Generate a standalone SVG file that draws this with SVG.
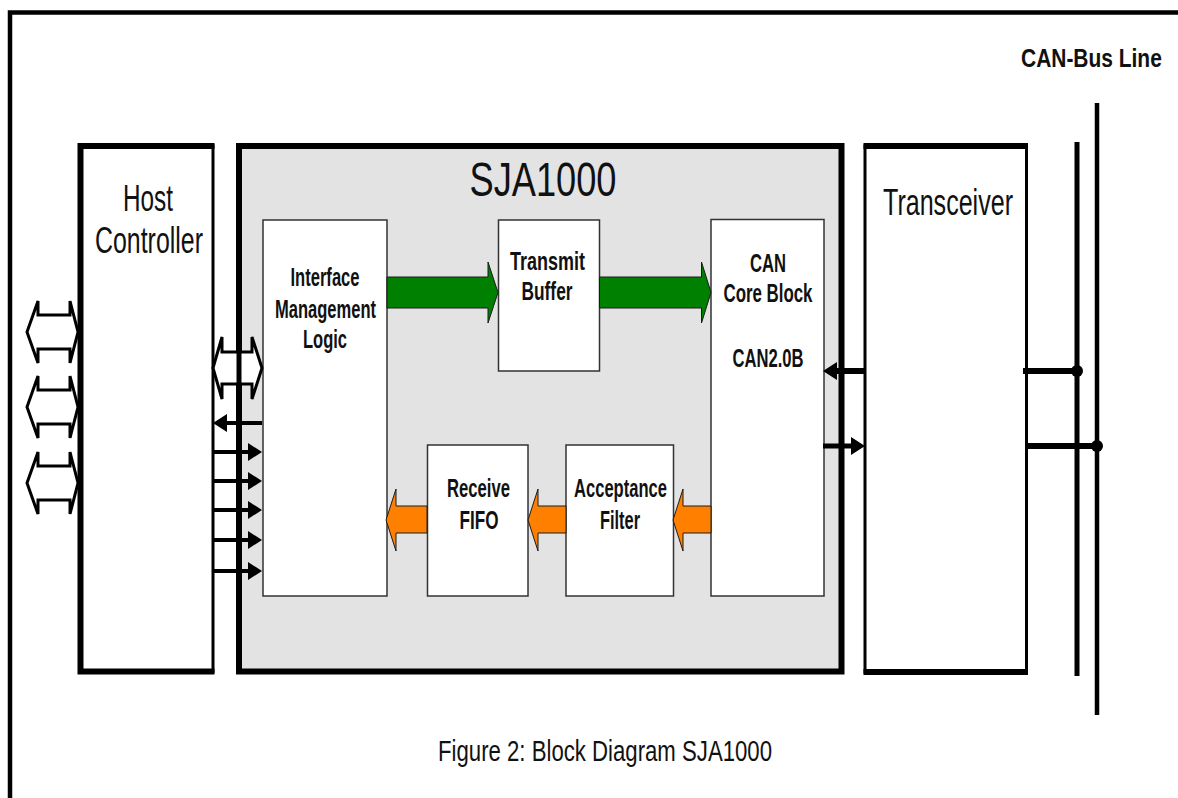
<svg xmlns="http://www.w3.org/2000/svg" width="1178" height="798" viewBox="0 0 1178 798">
<style>
.t{font-family:"Liberation Sans",Arial,sans-serif;fill:#111}
.big{font-size:37px}
.lab{font-size:25px;font-weight:bold}
.inner{fill:#fff;stroke:#333;stroke-width:1.5}
.thick{fill:none;stroke:#000;stroke-width:6}
.thin{fill:none;stroke:#000;stroke-width:3}
.grn{fill:#008000;stroke:#1a1a1a;stroke-width:1}
.org{fill:#ff8000;stroke:#1a1a1a;stroke-width:1}
.hollow{fill:#fff;stroke:#000;stroke-width:3;stroke-linejoin:miter}
.wire{stroke:#000;fill:none}
</style>
<defs>
<marker id="ah" markerUnits="userSpaceOnUse" markerWidth="14" markerHeight="18" refX="4" refY="9" orient="auto">
<path d="M0,0 L14,9 L0,18 Z" fill="#000"/>
</marker>
<path id="dbl" d="M27,0 L38,-31 L38,-17 L70,-17 L70,-31 L78,0 L70,31 L70,17 L38,17 L38,31 Z"/>
</defs>
<rect width="1178" height="798" fill="#fff"/>
<path d="M10,798 V12.5 H1178" fill="none" stroke="#000" stroke-width="4.5"/>
<text class="t" transform="translate(1021,67) scale(0.8,1)" x="0" y="0" font-size="25" font-weight="bold" textLength="176" lengthAdjust="spacingAndGlyphs">CAN-Bus Line</text>

<g id="host">
<rect x="80.5" y="146" width="132.5" height="525.5" class="thin" style="fill:#fff"/>
<path class="thick" d="M214.5,146 H80.5 V671.5 H214.5"/>
<text class="t big" x="148" y="211" text-anchor="middle" textLength="50" lengthAdjust="spacingAndGlyphs">Host</text>
<text class="t big" x="149" y="253" text-anchor="middle" textLength="108" lengthAdjust="spacingAndGlyphs">Controller</text>
</g>

<g id="sja1000">
<rect x="239" y="146" width="602.5" height="525.5" fill="#e3e3e3" stroke="#000" stroke-width="6"/>
<text class="t" x="543" y="196" font-size="49" text-anchor="middle" textLength="147" lengthAdjust="spacingAndGlyphs">SJA1000</text>
</g>

<g id="transceiver">
<rect x="865" y="146" width="161.5" height="526" class="thin" style="fill:#fff"/>
<path class="thick" d="M863.5,146 H1028 M863.5,672 H1028"/>
<text class="t big" x="948" y="215" text-anchor="middle" textLength="130" lengthAdjust="spacingAndGlyphs">Transceiver</text>
</g>

<g id="iml">
<rect class="inner" x="263" y="220" width="124" height="376"/>
<text class="t lab" x="325" y="286" text-anchor="middle" textLength="69" lengthAdjust="spacingAndGlyphs">Interface</text>
<text class="t lab" x="325.5" y="318" text-anchor="middle" textLength="101" lengthAdjust="spacingAndGlyphs">Management</text>
<text class="t lab" x="325" y="348" text-anchor="middle" textLength="44" lengthAdjust="spacingAndGlyphs">Logic</text>
</g>

<g id="transmit-buffer">
<rect class="inner" x="498.5" y="220" width="101" height="151"/>
<text class="t lab" x="547.5" y="270" text-anchor="middle" textLength="75" lengthAdjust="spacingAndGlyphs">Transmit</text>
<text class="t lab" x="547" y="300" text-anchor="middle" textLength="51" lengthAdjust="spacingAndGlyphs">Buffer</text>
</g>

<g id="can-core">
<rect class="inner" x="711" y="219.5" width="113" height="376.5"/>
<text class="t lab" x="768" y="271.5" text-anchor="middle" textLength="36" lengthAdjust="spacingAndGlyphs">CAN</text>
<text class="t lab" x="768" y="301.5" text-anchor="middle" textLength="89" lengthAdjust="spacingAndGlyphs">Core Block</text>
<text class="t lab" x="768" y="366.5" text-anchor="middle" textLength="71" lengthAdjust="spacingAndGlyphs">CAN2.0B</text>
</g>

<g id="receive-fifo">
<rect class="inner" x="427.5" y="445" width="100.5" height="151"/>
<text class="t lab" x="478.5" y="496.5" text-anchor="middle" textLength="63" lengthAdjust="spacingAndGlyphs">Receive</text>
<text class="t lab" x="479" y="529" text-anchor="middle" textLength="39" lengthAdjust="spacingAndGlyphs">FIFO</text>
</g>

<g id="acceptance-filter">
<rect class="inner" x="566" y="445" width="107.5" height="151"/>
<text class="t lab" x="620.5" y="496.5" text-anchor="middle" textLength="93" lengthAdjust="spacingAndGlyphs">Acceptance</text>
<text class="t lab" x="620" y="529" text-anchor="middle" textLength="40" lengthAdjust="spacingAndGlyphs">Filter</text>
</g>

<g id="can-bus">
<line class="wire" x1="1077" y1="142" x2="1077" y2="676" stroke-width="5"/>
<path d="M1097,103 V715" class="wire" stroke-width="4.5"/>
</g>

<g id="connectors">
<polygon class="grn" points="387,277 488,277 488,262 498,292.5 488,323 488,308 387,308"/>
<polygon class="grn" points="599.5,277 701.5,277 701.5,262 711,292.5 701.5,323 701.5,308 599.5,308"/>
<polygon class="org" points="427,506 396,506 396,489 386,520 396,551 396,533 427,533"/>
<polygon class="org" points="566,506 538,506 538,489 528,520 538,551 538,533 566,533"/>
<polygon class="org" points="711,506 683,506 683,489 673,520 683,551 683,533 711,533"/>

<use href="#dbl" class="hollow" y="332"/>
<use href="#dbl" class="hollow" y="407"/>
<use href="#dbl" class="hollow" y="483"/>

<path class="hollow" d="M213,368 L222,337 L222,352 L252,352 L252,337 L262,368 L252,399 L252,384 L222,384 L222,399 Z"/>
<line x1="239" y1="334" x2="239" y2="402" stroke="#000" stroke-width="5"/>

<g class="wire" stroke-width="4" marker-end="url(#ah)">
<line x1="262" y1="423" x2="223" y2="423"/>
<line x1="213" y1="452" x2="252" y2="452"/>
<line x1="213" y1="481" x2="252" y2="481"/>
<line x1="213" y1="510" x2="252" y2="510"/>
<line x1="213" y1="540" x2="252" y2="540"/>
<line x1="213" y1="571" x2="252" y2="571"/>
</g>
<line class="wire" x1="865" y1="371" x2="833" y2="371" stroke-width="6" marker-end="url(#ah)"/>
<line class="wire" x1="823" y1="446" x2="855" y2="446" stroke-width="5" marker-end="url(#ah)"/>

<line class="wire" x1="1023" y1="371" x2="1077" y2="371" stroke-width="6"/>
<circle cx="1077" cy="371" r="6" fill="#000"/>
<line class="wire" x1="1027" y1="446" x2="1097" y2="446" stroke-width="6"/>
<circle cx="1097" cy="446" r="6" fill="#000"/>
</g>

<text class="t" x="605" y="761" font-size="29" text-anchor="middle" textLength="334" lengthAdjust="spacingAndGlyphs">Figure 2: Block Diagram SJA1000</text>
</svg>
